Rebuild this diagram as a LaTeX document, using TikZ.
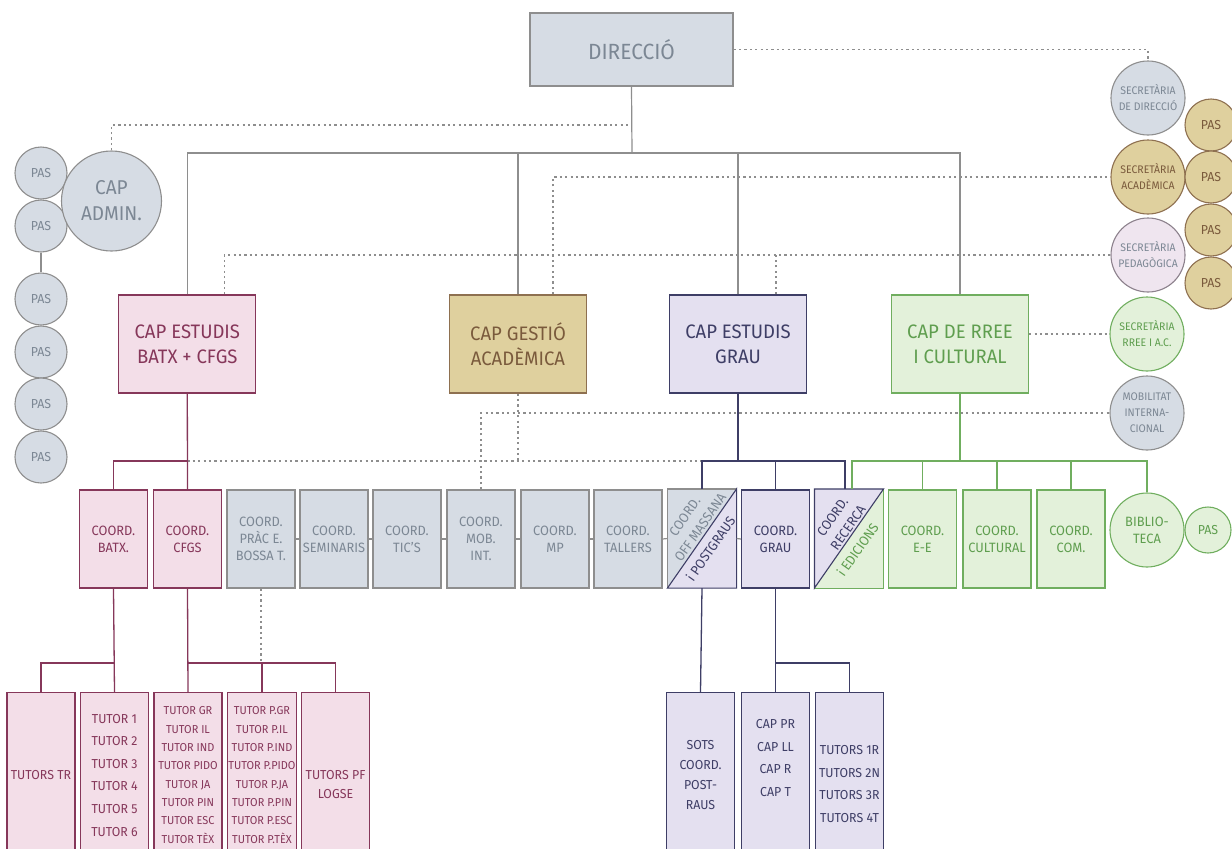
\documentclass[tikz,border=0pt]{standalone}
\usepackage{fontspec}
\setmainfont{Fira Sans}[FakeStretch=0.95]
\usetikzlibrary{calc}

\definecolor{grisfons}{HTML}{D6DCE4}
\definecolor{grisvora}{HTML}{8E8E8E}
\definecolor{gristext}{HTML}{7C8794}
\definecolor{rosafons}{HTML}{F3DEE8}
\definecolor{rosavora}{HTML}{86375A}
\definecolor{daufons}{HTML}{DFD09E}
\definecolor{dauvora}{HTML}{8E7050}
\definecolor{dautext}{HTML}{7A5A3C}
\definecolor{lilafons}{HTML}{E4E0F0}
\definecolor{lilavora}{HTML}{3E3E66}
\definecolor{verdfons}{HTML}{E3F1DA}
\definecolor{verdvora}{HTML}{70AE5F}
\definecolor{verdtext}{HTML}{5F9E4F}
\definecolor{pedfons}{HTML}{EFE5EF}
\definecolor{pedvora}{HTML}{8C818C}

\begin{document}
\begin{tikzpicture}[x=1pt, y=-1pt,
        every node/.style={font=\fontsize{13.5}{17}\selectfont},
        gris/.style={fill=grisfons, draw=grisvora, text=gristext},
        rosa/.style={fill=rosafons, draw=rosavora, text=rosavora},
        daurat/.style={fill=daufons, draw=dauvora, text=dautext},
        lila/.style={fill=lilafons, draw=lilavora, text=lilavora},
        verd/.style={fill=verdfons, draw=verdvora, text=verdtext},
        rosat/.style={fill=pedfons, draw=pedvora, text=gristext},
        caixa/.style={line width=1.2pt, minimum width=137pt, minimum height=98pt, align=center, font=\fontsize{19.5}{25}\selectfont},
        coord/.style={line width=1.1pt, minimum width=68pt, minimum height=98pt, inner sep=1pt, align=center},
        tutor/.style={line width=1.1pt, minimum width=68pt, minimum height=165pt, inner sep=1pt, anchor=north, align=center, font=\fontsize{13}{22.6}\selectfont},
        diag/.style={rotate=55, inner sep=0pt, align=center, font=\fontsize{13.5}{19}\selectfont},
        cercle/.style={circle, line width=1.1pt, inner sep=0pt, align=center},
        pas/.style={cercle, minimum size=52pt, font=\fontsize{13}{16}\selectfont},
        sec/.style={cercle, minimum size=74pt, font=\fontsize{11}{16}\selectfont},
        linia/.style={draw=grisvora, line width=1.2pt},
        punts/.style={draw=grisvora, line width=1.1pt, dash pattern=on 2.2pt off 3.2pt},
        lrosa/.style={draw=rosavora, line width=1.3pt},
        llila/.style={draw=lilavora, line width=1.3pt},
        lverd/.style={draw=verdvora, line width=1.3pt}
    ]
    \useasboundingbox (0,0) rectangle (1232,849);
    \clip (0,0) rectangle (1232,849);

    % Direccio i caps
    \node[caixa, gris, minimum width=203pt, minimum height=73pt, font=\fontsize{22}{26}\selectfont] (dir) at (631.5,49.5) {DIRECCIÓ};
    \node[caixa, rosa] (batx) at (187.3,344) {CAP ESTUDIS\\BATX + CFGS};
    \node[caixa, daurat] (gestio) at (518,344) {CAP GESTIÓ\\ACADÈMICA};
    \node[caixa, lila] (grau) at (738,344) {CAP ESTUDIS\\GRAU};
    \node[caixa, verd] (rree) at (960,344) {CAP DE RREE\\I CULTURAL};

    % PAS i cap admin.
    \node[pas, gris] (pas1) at (41,173) {PAS};
    \node[pas, gris] (pas2) at (41,226) {PAS};
    \node[pas, gris] (pas3) at (41,299) {PAS};
    \node[pas, gris] (pas4) at (41,352) {PAS};
    \node[pas, gris] (pas5) at (41,404) {PAS};
    \node[pas, gris] (pas6) at (41,457) {PAS};
    \node[cercle, gris, minimum size=100pt, font=\fontsize{20}{26}\selectfont] (cadmin) at (111.5,201) {CAP\\ADMIN.};

    % Secretaries
    \node[sec, gris] (secdir) at (1148,98) {SECRETÀRIA\\DE DIRECCIÓ};
    \node[sec, daurat] (secacad) at (1148,177) {SECRETÀRIA\\ACADÈMICA};
    \node[sec, rosat] (secped) at (1148,255) {SECRETÀRIA\\PEDAGÒGICA};
    \node[sec, verd] (secrree) at (1147,334) {SECRETÀRIA\\RREE I A.C.};
    \node[sec, gris] (mobilitat) at (1147,413) {MOBILITAT\\INTERNA-\\CIONAL};
    \node[pas, daurat] (pasa) at (1211,125) {PAS};
    \node[pas, daurat] (pasb) at (1211,177) {PAS};
    \node[pas, daurat] (pasc) at (1211,230) {PAS};
    \node[pas, daurat] (pasd) at (1211,283) {PAS};

    % Coordinacions
    \node[coord, rosa] (cbatx) at (113.5,539) {COORD.\\BATX.};
    \node[coord, rosa] (cfgs) at (187.5,539) {COORD.\\CFGS};
    \node[coord, gris] (prac) at (261,539) {COORD.\\PRÀC E.\\BOSSA T.};
    \node[coord, gris] (seminaris) at (334,539) {COORD.\\SEMINARIS};
    \node[coord, gris] (tics) at (407,539) {COORD.\\TIC'S};
    \node[coord, gris] (mobint) at (481,539) {COORD.\\MOB.\\INT.};
    \node[coord, gris] (mp) at (555,539) {COORD.\\MP};
    \node[coord, gris] (tallers) at (628,539) {COORD.\\TALLERS};
    \node[coord] (offm) at (702,538.5) {};
    \node[coord, lila] (cgrau) at (775.5,539) {COORD.\\GRAU};
    \node[coord] (recerca) at (849,538.5) {};
    \node[coord, verd] (ee) at (922.5,539) {COORD.\\E-E};
    \node[coord, verd] (cultural) at (997,539) {COORD.\\CULTURAL};
    \node[coord, verd] (com) at (1071,539) {COORD.\\COM.};
    \node[sec, verd, font=\fontsize{13.5}{17}\selectfont] (biblio) at (1147,530) {BIBLIO-\\TECA};
    \node[pas, verd, minimum size=46pt] (pasbib) at (1208,530) {PAS};

    % Caixes partides
    \fill[grisfons] (offm.south west) -- (offm.north west) -- (offm.north east) -- cycle;
    \fill[lilafons] (offm.south west) -- (offm.south east) -- (offm.north east) -- cycle;
    \draw[grisvora, line width=1.1pt] (offm.south west) -- (offm.north west) -- (offm.north east);
    \draw[lilavora, line width=1.1pt] (offm.south west) -- (offm.south east) -- (offm.north east) -- cycle;
    \node[diag, text=gristext] (offmtxt) at (692.5,522) {COORD.\\OFF MASSANA};
    \node[diag, text=lilavora] (postgtxt) at (710.5,548.5) {i POSTGRAUS};
    \fill[lilafons] (recerca.south west) -- (recerca.north west) -- (recerca.north east) -- cycle;
    \fill[verdfons] (recerca.south west) -- (recerca.south east) -- (recerca.north east) -- cycle;
    \draw[verdvora, line width=1.1pt] (recerca.south west) -- (recerca.south east) -- (recerca.north east);
    \draw[lilavora, line width=1.1pt] (recerca.south west) -- (recerca.north west) -- (recerca.north east) -- cycle;
    \node[diag, text=lilavora] (recertxt) at (840.3,522.3) {COORD.\\RECERCA};
    \node[diag, text=verdtext] (edictxt) at (857.5,549.5) {i EDICIONS};

    % Tutors
    \node[tutor, rosa] (ttr) at (41,692) {TUTORS TR};
    \node[tutor, rosa] (tut16) at (114.5,692) {TUTOR 1\\TUTOR 2\\TUTOR 3\\TUTOR 4\\TUTOR 5\\TUTOR 6};
    \node[tutor, rosa, font=\fontsize{11.5}{18.3}\selectfont] (tgr) at (188,692) {TUTOR GR\\TUTOR IL\\TUTOR IND\\TUTOR PIDO\\TUTOR JA\\TUTOR PIN\\TUTOR ESC\\TUTOR TÈX};
    \node[tutor, rosa, font=\fontsize{11.5}{18.3}\selectfont] (tpgr) at (262,692) {TUTOR P.GR\\TUTOR P.IL\\TUTOR P.IND\\TUTOR P.PIDO\\TUTOR P.JA\\TUTOR P.PIN\\TUTOR P.ESC\\TUTOR P.TÈX};
    \node[tutor, rosa, minimum height=183pt, font=\fontsize{13}{19}\selectfont] (tpf) at (335.5,692) {TUTORS PF\\LOGSE};
    \node[tutor, lila, font=\fontsize{13}{20}\selectfont] (sots) at (700.5,692) {SOTS\\COORD.\\POST-\\RAUS};
    \node[tutor, lila] (cappr) at (775.5,692) {};
    \node[align=center, text=lilavora, font=\fontsize{13}{22.6}\selectfont] (capprtxt) at ([yshift=-66pt]cappr.north) {CAP PR\\CAP LL\\CAP R\\CAP T};
    \node[tutor, lila, minimum height=183pt] (tut1r) at (849.5,692) {TUTORS 1R\\TUTORS 2N\\TUTORS 3R\\TUTORS 4T};

    % Punts de les barres
    \coordinate (bus) at (632,153);
    \coordinate (pd1) at (632,125);
    \coordinate (busbatx) at (187.3,461);
    \coordinate (busgrau) at (738,461);
    \coordinate (busrree) at (960,461);
    \coordinate (tb1) at (114.5,663);
    \coordinate (tb2) at (188,663);
    \coordinate (tb3) at (775.5,663);

    % Linies
    \draw[linia] (dir.south) -- (bus);
    \draw[linia] (batx.north) |- (bus) -| (rree.north);
    \draw[linia] (gestio.north) -- (gestio.north |- bus);
    \draw[linia] (grau.north) -- (grau.north |- bus);
    \draw[linia] (pas2) -- (pas3);

    % Linies de punts
    \draw[punts] (cadmin.north) |- (pd1);
    \draw[punts] (dir.east) -| (secdir.north);
    \draw[punts] ([xshift=35pt]gestio.north) |- (secacad.west);
    \draw[punts] ([xshift=37pt]batx.north) |- (secped.west);
    \draw[punts] ([xshift=38pt]grau.north) -- ([xshift=38pt]grau.north |- secped.west);
    \draw[punts] (rree.east |- secrree.west) -- (secrree.west);
    \draw[punts] (mobint.north) |- (mobilitat.west);
    \draw[punts] (gestio.south) -- (gestio.south |- busbatx);
    \draw[punts] (busbatx) -- (busbatx -| offm.north);
    \draw[punts] (prac.south) -- (prac.south |- tb2);

    % Batxillerat
    \draw[lrosa] (batx.south) -- (cfgs.north);
    \draw[lrosa] (busbatx) -| (cbatx.north);
    \draw[lrosa] (cbatx.south) -- (tut16.north);
    \draw[lrosa] (tb1) -| (ttr.north);
    \draw[lrosa] (cfgs.south) -- (tgr.north);
    \draw[lrosa] (tb2) -| (tpf.north);
    \draw[lrosa] (tpgr.north) -- (tpgr.north |- tb2);

    % Grau
    \draw[llila] (grau.south) -- (busgrau);
    \draw[llila] (offm.north) |- (busgrau) -| ([xshift=-4pt]recerca.north);
    \draw[llila] (cgrau.north) -- (cgrau.north |- busgrau);
    \draw[llila] (offm.south) -- (sots.north);
    \draw[llila] (cgrau.south) -- (cappr.north);
    \draw[llila] (tb3) -| (tut1r.north);

    % RREE
    \draw[lverd] (rree.south) -- (busrree);
    \draw[lverd] ([xshift=3pt]recerca.north) |- (busrree) -| (biblio.north);
    \draw[lverd] (ee.north) -- (ee.north |- busrree);
    \draw[lverd] (cultural.north) -- (cultural.north |- busrree);
    \draw[lverd] (com.north) -- (com.north |- busrree);

    % Cadena de coordinacions
    \draw[linia] (prac.east) -- (seminaris.west);
    \draw[linia] (seminaris.east) -- (tics.west);
    \draw[linia] (tics.east) -- (mobint.west);
    \draw[linia] (mobint.east) -- (mp.west);
    \draw[linia] (mp.east) -- (tallers.west);
    \draw[linia] (tallers.east) -- (offm.west);
    \draw[linia] (offm.east) -- (cgrau.west);
\end{tikzpicture}
\end{document}
